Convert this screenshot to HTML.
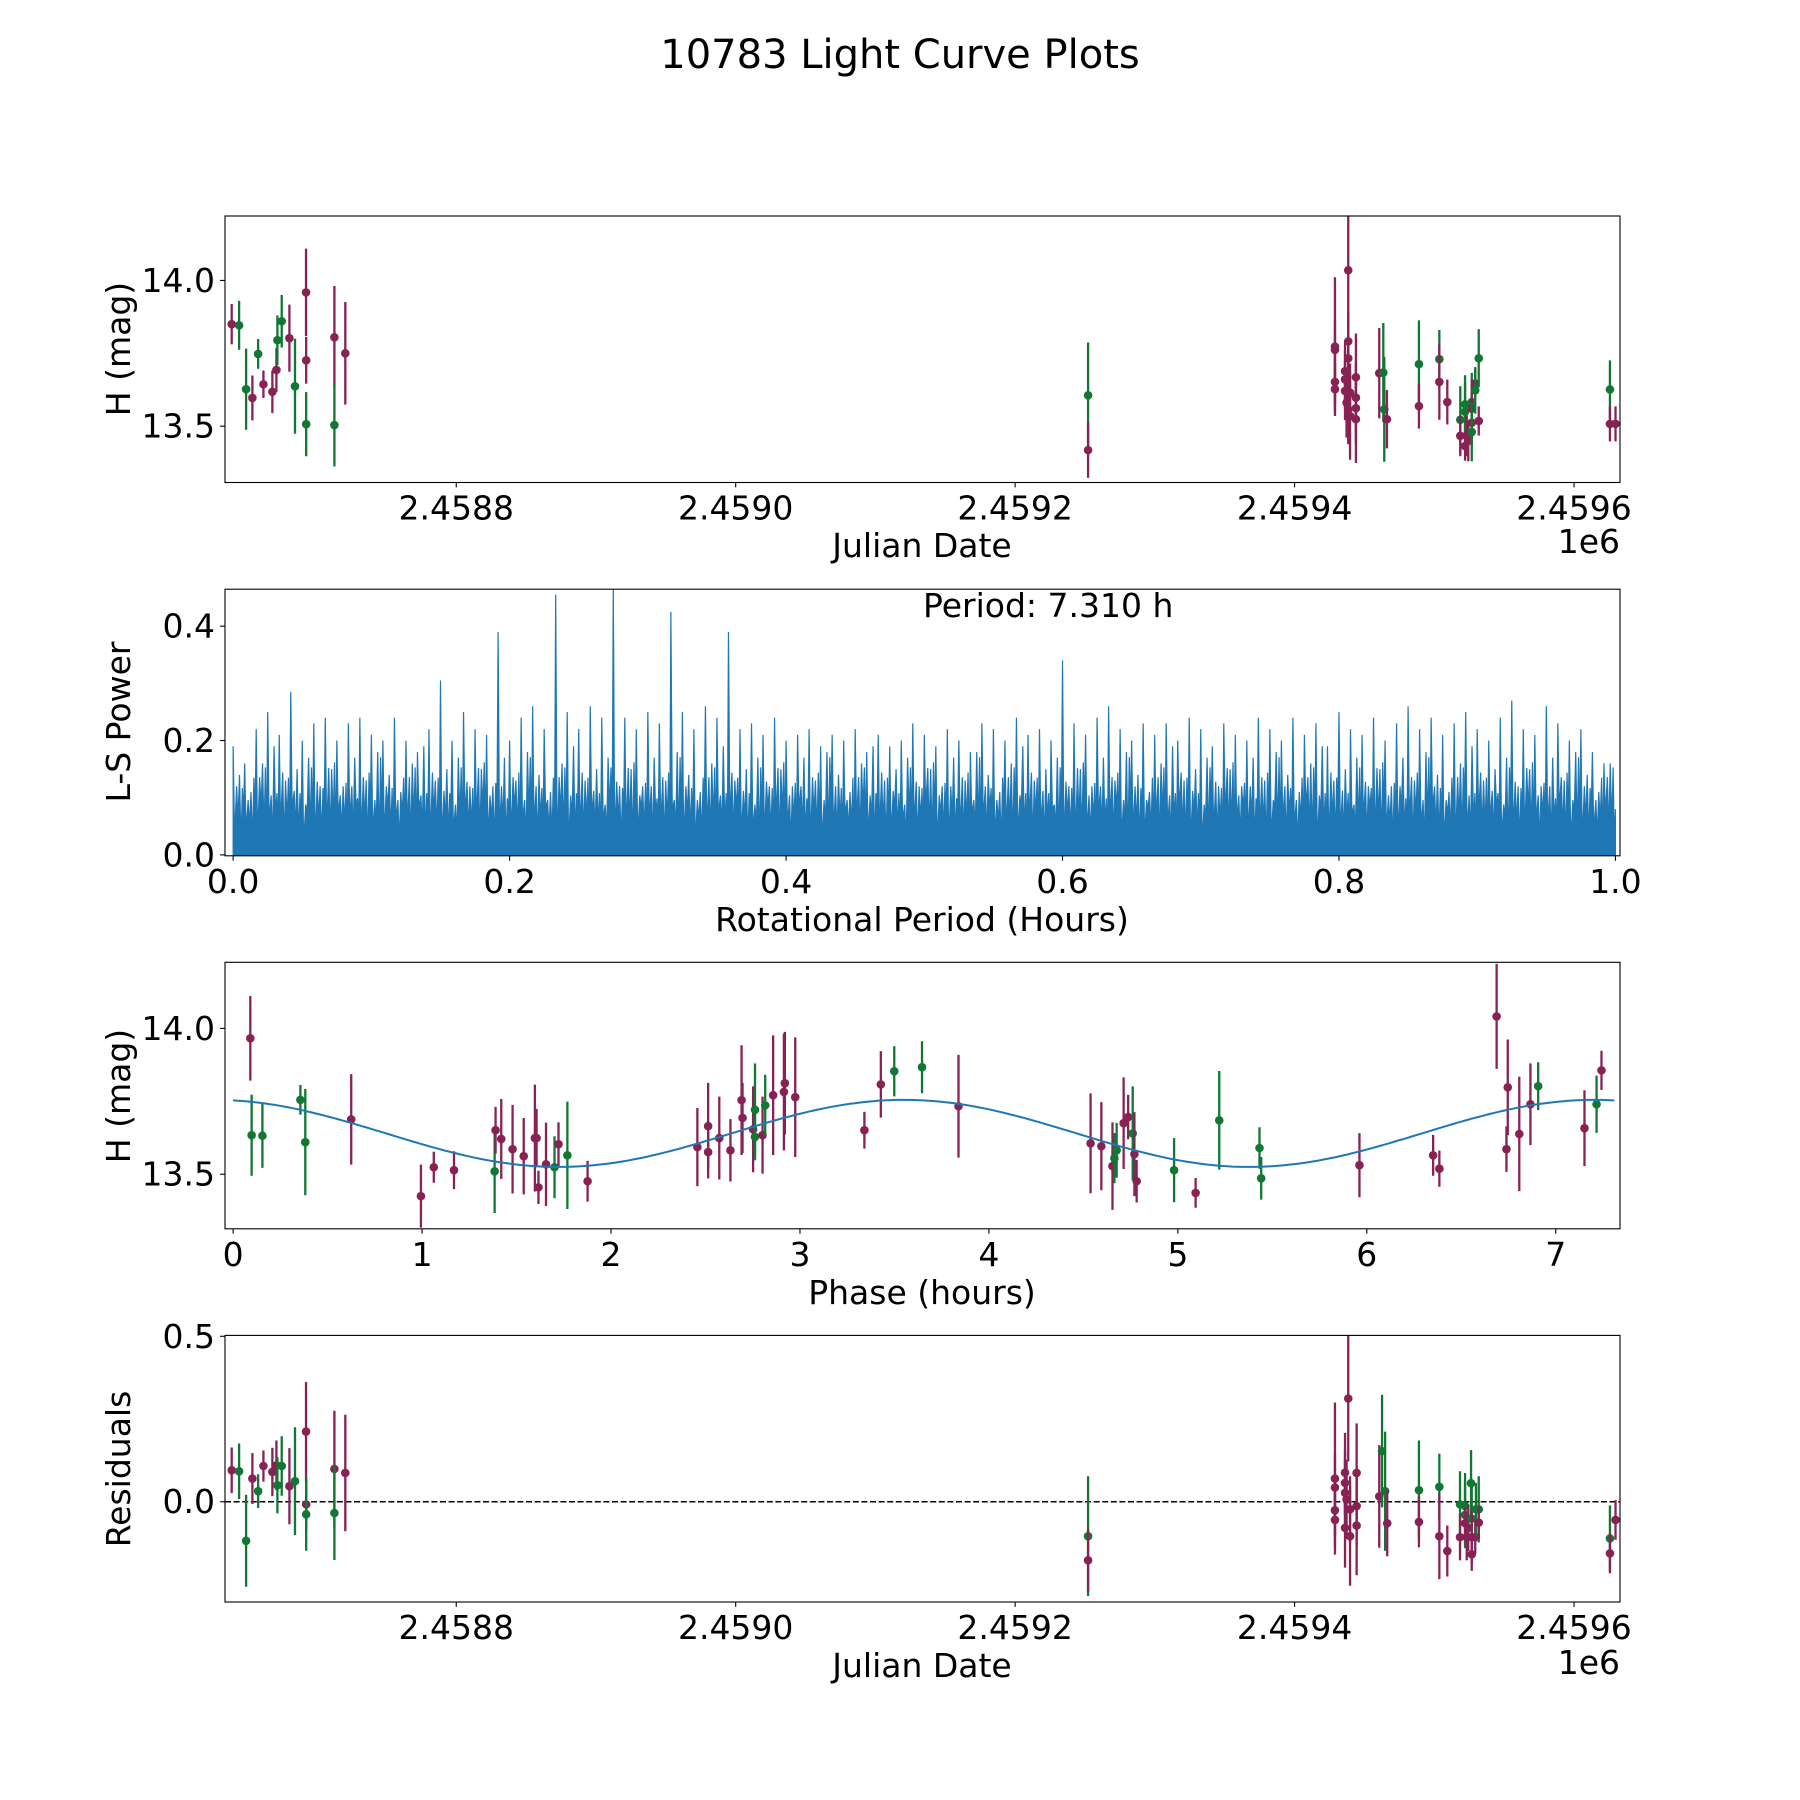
<!DOCTYPE html>
<html><head><meta charset="utf-8"><title>10783 Light Curve Plots</title>
<style>
html,body{margin:0;padding:0;background:#fff;}
svg{display:block;font-family:"DejaVu Sans","Liberation Sans",sans-serif;}
</style></head>
<body>
<svg id="fig" width="1800" height="1800" viewBox="0 0 1800 1800" xmlns="http://www.w3.org/2000/svg">
<rect width="1800" height="1800" fill="#fff"/>
<text x="900" y="68" font-size="40" text-anchor="middle">10783 Light Curve Plots</text>
</svg>
<script>
// ---------- Panel 1: light curve (Julian Date) ----------
const jd1 = [2458639.3,2458644.6,2458649.6,2458654.1,2458658.2,2458662.0,2458668.4,2458671.3,2458672.0,2458675.1,2458680.6,2458684.6,2458692.5,2458692.6,2458692.6,2458712.8,2458712.8,2458720.6,
 2459252.2,2459252.2,
 2459428.9,2459428.9,2459428.9,2459428.9,2459438.4,2459438.4,2459438.4,2459436.1,2459436.1,2459436.1,2459437.2,2459439.7,2459438.4,2459439.7,2459443.9,2459443.9,2459443.9,2459443.9,
 2459460.6,2459463.5,2459464.2,2459466.1,2459489.0,2459489.0,2459503.6,2459503.6,2459509.3,
 2459518.6,2459518.6,2459522.0,2459522.0,2459522.0,2459523.2,2459524.3,2459526.8,2459526.8,2459526.8,2459526.8,2459529.3,2459529.3,2459531.8,2459531.8,
 2459625.7,2459625.7,2459629.7];
const mag1 = [13.850,13.846,13.627,13.597,13.748,13.644,13.618,13.693,13.795,13.860,13.802,13.637,13.959,13.726,13.507,13.805,13.504,13.750,
 13.606,13.418,
 13.773,13.762,13.652,13.627,14.035,13.791,13.733,13.689,13.661,13.621,13.581,13.615,13.558,13.535,13.668,13.598,13.562,13.524,
 13.682,13.684,13.558,13.524,13.713,13.569,13.730,13.652,13.583,
 13.522,13.467,13.575,13.550,13.432,13.467,13.450,13.583,13.560,13.512,13.480,13.647,13.623,13.733,13.518,
 13.626,13.508,13.508];
const err1 = [0.069,0.084,0.139,0.077,0.051,0.047,0.073,0.075,0.085,0.090,0.115,0.163,0.15,0.08,0.11,0.176,0.142,0.176,
 0.181,0.095,
 0.238,0.10,0.08,0.08,0.20,0.10,0.12,0.10,0.10,0.10,0.12,0.10,0.12,0.15,0.15,0.12,0.12,0.15,
 0.155,0.17,0.18,0.10,0.15,0.077,0.10,0.13,0.077,
 0.115,0.07,0.10,0.10,0.05,0.07,0.07,0.10,0.10,0.08,0.10,0.05,0.08,0.10,0.05,
 0.10,0.06,0.06];
const col1 = ['m','g','g','m','g','m','m','m','g','g','m','g','m','m','g','m','g','m',
 'g','m',
 'm','m','m','m','m','m','m','m','m','m','m','m','m','m','m','m','m','m',
 'm','g','g','m','g','m','g','m','m',
 'g','m','g','g','m','m','m','g','m','m','g','m','g','g','m',
 'g','m','m'];
const jdTicks = [2458800,2459000,2459200,2459400,2459600];
const jdTickLabels = ['2.4588','2.4590','2.4592','2.4594','2.4596'];

// ---------- Panel 2: periodogram ----------
const lsPeaks = [0.19,0.16,0.22,0.25,0.21,0.285,0.20,0.23,0.24,0.20,
 0.23,0.24,0.21,0.20,0.24,0.20,0.18,0.22,0.305,0.20,
 0.25,0.22,0.21,0.39,0.20,0.24,0.26,0.22,0.455,0.25,
 0.22,0.26,0.24,0.47,0.24,0.22,0.25,0.23,0.425,0.25,
 0.22,0.26,0.24,0.39,0.22,0.23,0.21,0.24,0.20,0.21,
 0.22,0.19,0.21,0.20,0.22,0.18,0.21,0.19,0.20,0.23,
 0.21,0.19,0.22,0.20,0.18,0.23,0.22,0.20,0.24,0.21,
 0.22,0.20,0.34,0.23,0.21,0.24,0.26,0.22,0.20,0.23,
 0.21,0.23,0.20,0.24,0.22,0.19,0.23,0.21,0.20,0.24,
 0.22,0.20,0.24,0.21,0.23,0.19,0.25,0.22,0.21,0.24,
 0.20,0.23,0.26,0.22,0.24,0.21,0.23,0.25,0.22,0.20,
 0.24,0.27,0.22,0.21,0.26,0.23,0.20,0.22,0.18,0.16,0.08];
const lsMid = [0.15,0.12,0.17,0.13,0.18,0.14,0.11,0.16,0.19,0.13,0.15,0.17,0.12];
const lsTroughs = [0.03,0.06,0.02,0.07,0.04,0.05,0.02,0.06,0.03,0.08,0.04];
const periodTicks = [0.0,0.2,0.4,0.6,0.8,1.0];
const powerTicks = [0.0,0.2,0.4];

// ---------- Panel 3: phase-folded ----------
const phase3 = [0.091,0.098,0.155,0.356,0.382,0.625,0.994,1.062,1.169,1.384,1.389,1.419,1.479,1.538,1.597,1.606,1.616,1.656,1.701,1.722,1.769,1.876,
 2.457,2.514,2.514,2.573,2.632,2.691,2.696,2.752,2.762,2.762,2.802,2.816,2.858,2.915,2.920,2.975,3.341,3.428,3.499,3.646,
 3.839,4.538,4.595,4.654,4.664,4.676,4.713,4.737,4.761,4.770,4.782,4.980,5.094,5.219,5.432,5.441,5.961,6.351,6.384,6.687,6.739,6.746,6.807,6.866,6.907,7.152,7.216,7.242];
const mag3 = [13.966,13.634,13.632,13.755,13.610,13.688,13.425,13.524,13.514,13.510,13.651,13.621,13.586,13.562,13.624,13.624,13.455,13.534,13.524,13.603,13.565,13.476,
 13.593,13.665,13.576,13.624,13.582,13.754,13.693,13.654,13.721,13.628,13.634,13.736,13.771,13.782,13.812,13.764,13.651,13.808,13.853,13.867,
 13.733,13.606,13.596,13.528,13.555,13.582,13.675,13.696,13.640,13.569,13.476,13.514,13.436,13.685,13.590,13.486,13.531,13.565,13.519,14.041,13.586,13.798,13.638,13.740,13.802,13.658,13.740,13.856];
const err3 = [0.145,0.139,0.11,0.051,0.182,0.155,0.108,0.053,0.065,0.143,0.08,0.137,0.152,0.131,0.183,0.1,0.057,0.143,0.106,0.075,0.184,0.07,
 0.134,0.148,0.09,0.142,0.107,0.188,0.12,0.147,0.159,0.08,0.132,0.105,0.205,0.2,0.176,0.205,0.063,0.114,0.086,0.089,
 0.176,0.171,0.151,0.15,0.086,0.094,0.157,0.076,0.161,0.144,0.073,0.11,0.051,0.169,0.071,0.073,0.11,0.07,0.062,0.18,0.078,0.164,0.196,0.14,0.082,0.13,0.098,0.067];
const col3 = ['m','g','g','g','g','m','m','m','m','g','m','m','m','m','m','m','m','m','g','m','g','m',
 'm','m','m','m','m','m','m','m','g','g','m','g','m','m','m','m','m','m','g','g',
 'm','m','m','m','g','g','m','m','g','m','m','g','m','g','g','g','m','m','m','m','m','m','m','m','g','m','g','m'];
const phaseTicks = [0,1,2,3,4,5,6,7];
const magTicks = [13.5,14.0];
const modelMean = 13.64, modelAmp = 0.115, modelPeak = 3.55, modelCycle = 3.655;

// ---------- Panel 4: residuals ----------
const jd4 = [2458639.3,2458644.6,2458649.6,2458654.1,2458658.2,2458662.0,2458668.4,2458671.3,2458672.0,2458675.1,2458680.6,2458684.6,2458692.5,2458692.6,2458692.6,2458712.8,2458712.8,2458720.6,
 2459252.2,2459252.2,
 2459428.9,2459428.9,2459428.9,2459428.9,2459438.4,2459436.1,2459436.1,2459436.1,2459437.2,2459439.7,2459436.1,2459439.7,2459444.4,2459444.4,2459444.4,
 2459460.6,2459462.6,2459464.8,2459466.3,2459489.0,2459489.0,2459503.6,2459503.6,2459509.3,
 2459518.4,2459518.4,2459522.0,2459522.0,2459522.0,2459523.2,2459524.3,2459526.3,2459526.8,2459526.8,2459526.8,2459529.3,2459529.8,2459531.8,2459531.8,
 2459625.7,2459625.7,2459629.7];
const res4 = [0.095,0.092,-0.118,0.070,0.032,0.108,0.090,0.110,0.050,0.108,0.047,0.062,0.212,-0.008,-0.038,0.099,-0.034,0.087,
 -0.104,-0.177,
 0.070,0.043,-0.026,-0.055,0.312,0.088,0.057,0.027,0.007,-0.023,-0.079,-0.104,0.087,-0.013,-0.072,
 0.016,0.153,0.032,-0.065,0.035,-0.061,0.045,-0.104,-0.149,
 -0.008,-0.107,-0.013,-0.040,-0.065,-0.107,-0.079,0.056,-0.051,-0.107,-0.159,-0.107,-0.023,-0.023,-0.063,
 -0.111,-0.156,-0.055];
const err4 = [0.069,0.084,0.139,0.077,0.051,0.047,0.073,0.075,0.085,0.090,0.115,0.163,0.150,0.08,0.11,0.176,0.142,0.176,
 0.181,0.095,
 0.230,0.10,0.08,0.08,0.19,0.12,0.10,0.10,0.12,0.10,0.12,0.15,0.15,0.12,0.15,
 0.155,0.17,0.18,0.10,0.15,0.077,0.10,0.13,0.077,
 0.10,0.07,0.10,0.10,0.05,0.07,0.07,0.10,0.10,0.08,0.05,0.05,0.08,0.10,0.05,
 0.10,0.06,0.06];
const col4 = ['m','g','g','m','g','m','m','m','g','g','m','g','m','m','g','m','g','m',
 'g','m',
 'm','m','m','m','m','m','m','m','m','m','m','m','m','m','m',
 'm','g','g','m','g','m','g','m','m',
 'g','m','g','g','m','m','m','g','g','m','m','m','g','g','m',
 'g','m','m'];
const resTicks = [0.0,0.5];

// ---------- drawing ----------
const NS = 'http://www.w3.org/2000/svg';
const svg = document.getElementById('fig');
const COLORS = {m:'#882255', g:'#117733'};
const L = 225, R = 1620;
const FS = 33;

function mk(tag, attrs, parent){
  const e = document.createElementNS(NS, tag);
  for (const k in attrs) e.setAttribute(k, attrs[k]);
  (parent||svg).appendChild(e);
  return e;
}
function makeAxes(top, bottom, xlim, ylim, name){
  const g = mk('g', {});
  
  
  const sx = v => L + (v - xlim[0]) / (xlim[1] - xlim[0]) * (R - L);
  const sy = v => bottom - (v - ylim[0]) / (ylim[1] - ylim[0]) * (bottom - top);
  return {g, sx, sy, top, bottom};
}
function frame(ax){
  const r = mk('rect', {x:L, y:ax.top, width:R-L, height:ax.bottom-ax.top, fill:'none', stroke:'#000', 'stroke-width':1.1}, ax.g);
  
  
}
function xticks(ax, vals, labels, name){
  vals.forEach((v,i)=>{
    const x = ax.sx(v);
    mk('line', {x1:x, x2:x, y1:ax.bottom, y2:ax.bottom+4.9, stroke:'#000','stroke-width':1.1}, ax.g);
    const t = mk('text', {x:x, y:ax.bottom+37, 'font-size':FS, 'text-anchor':'middle'}, ax.g);
    
    
    t.textContent = labels[i];
  });
}
function yticks(ax, vals, labels, name){
  vals.forEach((v,i)=>{
    const y = ax.sy(v);
    mk('line', {x1:L-4.9, x2:L, y1:y, y2:y, stroke:'#000','stroke-width':1.1}, ax.g);
    const t = mk('text', {x:L-10, y:y+11.5, 'font-size':FS, 'text-anchor':'end'}, ax.g);
    
    
    t.textContent = labels[i];
  });
}
function label(ax, txt, x, y, rot, name, anchor){
  const t = mk('text', {x:x, y:y, 'font-size':FS, 'text-anchor':anchor||'middle'}, ax.g);
  if (rot) t.setAttribute('transform', 'rotate(-90 '+x+' '+y+')');
  
  
  t.textContent = txt;
}
function clipFor(ax, id){
  const cp = mk('clipPath', {id:id}, ax.g);
  mk('rect', {x:L, y:ax.top, width:R-L, height:ax.bottom-ax.top}, cp);
  return mk('g', {'clip-path':'url(#'+id+')'}, ax.g);
}
function errorbars(ax, xs, ys, es, cs, name, clipId){
  const g = clipFor(ax, clipId);
  xs.forEach((xv,i)=>{
    const x = ax.sx(xv), c = COLORS[cs[i]];
    const ln = mk('line', {x1:x, x2:x, y1:ax.sy(ys[i]-es[i]), y2:ax.sy(ys[i]+es[i]), stroke:c, 'stroke-width':2.3}, g);
    
    
    const d = mk('circle', {cx:x, cy:ax.sy(ys[i]), r:4.3, fill:c}, g);
    
    
  });
}

// Panel 1
const jdLim = [2458634.5, 2459632.9];
const ax1 = makeAxes(216, 482.5, jdLim, [13.307, 14.221], 'light-curve-panel');
errorbars(ax1, jd1, mag1, err1, col1, 'magnitude', 'c1');
frame(ax1);
xticks(ax1, jdTicks, jdTickLabels, 'x-tick-label');
yticks(ax1, magTicks, ['13.5','14.0'], 'y-tick-label');
label(ax1, 'Julian Date', 922, 557, false, 'x-axis-title');
label(ax1, '1e6', 1620, 553, false, 'x-offset-label', 'end');
label(ax1, 'H (mag)', 130, 349, true, 'y-axis-title');

// Panel 2
const ax2 = makeAxes(589.2, 855.8, [-0.0059, 1.0033], [-0.0016, 0.4647], 'periodogram-panel');
(function(){
  const g = clipFor(ax2, 'c2');
  const n = lsPeaks.length - 1;
  let d = 'M'+ax2.sx(0)+','+ax2.sy(0);
  let k = 0;
  lsPeaks.forEach((p,i)=>{
    const x = i/n;
    d += ' L'+ax2.sx(x)+','+ax2.sy(p);
    if (i < n){
      d += ' L'+ax2.sx(x + 0.12/n)+','+ax2.sy(lsTroughs[(k++) % lsTroughs.length]);
      d += ' L'+ax2.sx(x + 0.3/n)+','+ax2.sy(lsMid[i % lsMid.length]*0.8);
      d += ' L'+ax2.sx(x + 0.42/n)+','+ax2.sy(lsTroughs[(k++) % lsTroughs.length]);
      d += ' L'+ax2.sx(x + 0.55/n)+','+ax2.sy(lsMid[(i+5) % lsMid.length]);
      d += ' L'+ax2.sx(x + 0.68/n)+','+ax2.sy(lsTroughs[(k++) % lsTroughs.length]);
      d += ' L'+ax2.sx(x + 0.8/n)+','+ax2.sy(lsMid[(i+9) % lsMid.length]*0.9);
      d += ' L'+ax2.sx(x + 0.9/n)+','+ax2.sy(lsTroughs[(k++) % lsTroughs.length]);
    }
  });
  d += ' L'+ax2.sx(1)+','+ax2.sy(0)+' Z';
  const p = mk('path', {d:d, fill:'#1f77b4', stroke:'#1f77b4', 'stroke-width':1.2, 'stroke-linejoin':'bevel'}, g);
  
  
})();
frame(ax2);
xticks(ax2, periodTicks, ['0.0','0.2','0.4','0.6','0.8','1.0'], 'x-tick-label');
yticks(ax2, powerTicks, ['0.0','0.2','0.4'], 'y-tick-label');
label(ax2, 'Rotational Period (Hours)', 922, 931, false, 'x-axis-title');
label(ax2, 'L-S Power', 130, 722, true, 'y-axis-title');
label(ax2, 'Period: 7.310 h', 923, 617, false, 'period-annotation', 'start');

// Panel 3
const ax3 = makeAxes(962.3, 1228.8, [-0.043, 7.34], [13.313, 14.2265], 'phase-panel');
errorbars(ax3, phase3, mag3, err3, col3, 'phased-magnitude', 'c3');
(function(){
  const g = clipFor(ax3, 'c3m');
  let d = '';
  for (let i = 0; i <= 300; i++){
    const ph = 7.31 * i / 300;
    const m = modelMean + modelAmp * Math.cos(2*Math.PI*(ph - modelPeak)/modelCycle);
    d += (i ? ' L' : 'M') + ax3.sx(ph).toFixed(1) + ',' + ax3.sy(m).toFixed(1);
  }
  const p = mk('path', {d:d, fill:'none', stroke:'#1f77b4', 'stroke-width':2}, g);
  
  
})();
frame(ax3);
xticks(ax3, phaseTicks, phaseTicks.map(String), 'x-tick-label');
yticks(ax3, magTicks, ['13.5','14.0'], 'y-tick-label');
label(ax3, 'Phase (hours)', 922, 1304, false, 'x-axis-title');
label(ax3, 'H (mag)', 130, 1096, true, 'y-axis-title');

// Panel 4
const ax4 = makeAxes(1335.4, 1602, jdLim, [-0.303, 0.5027], 'residuals-panel');
(function(){
  const y = ax4.sy(0);
  const ln = mk('line', {x1:L, x2:R, y1:y, y2:y, stroke:'#000', 'stroke-width':1.6, 'stroke-dasharray':'6,2.6'}, ax4.g);
  
  
})();
errorbars(ax4, jd4, res4, err4, col4, 'residual', 'c4');
frame(ax4);
xticks(ax4, jdTicks, jdTickLabels, 'x-tick-label');
yticks(ax4, resTicks, ['0.0','0.5'], 'y-tick-label');
label(ax4, 'Julian Date', 922, 1677, false, 'x-axis-title');
label(ax4, '1e6', 1620, 1674, false, 'x-offset-label', 'end');
label(ax4, 'Residuals', 130, 1469, true, 'y-axis-title');
</script>
</body></html>
